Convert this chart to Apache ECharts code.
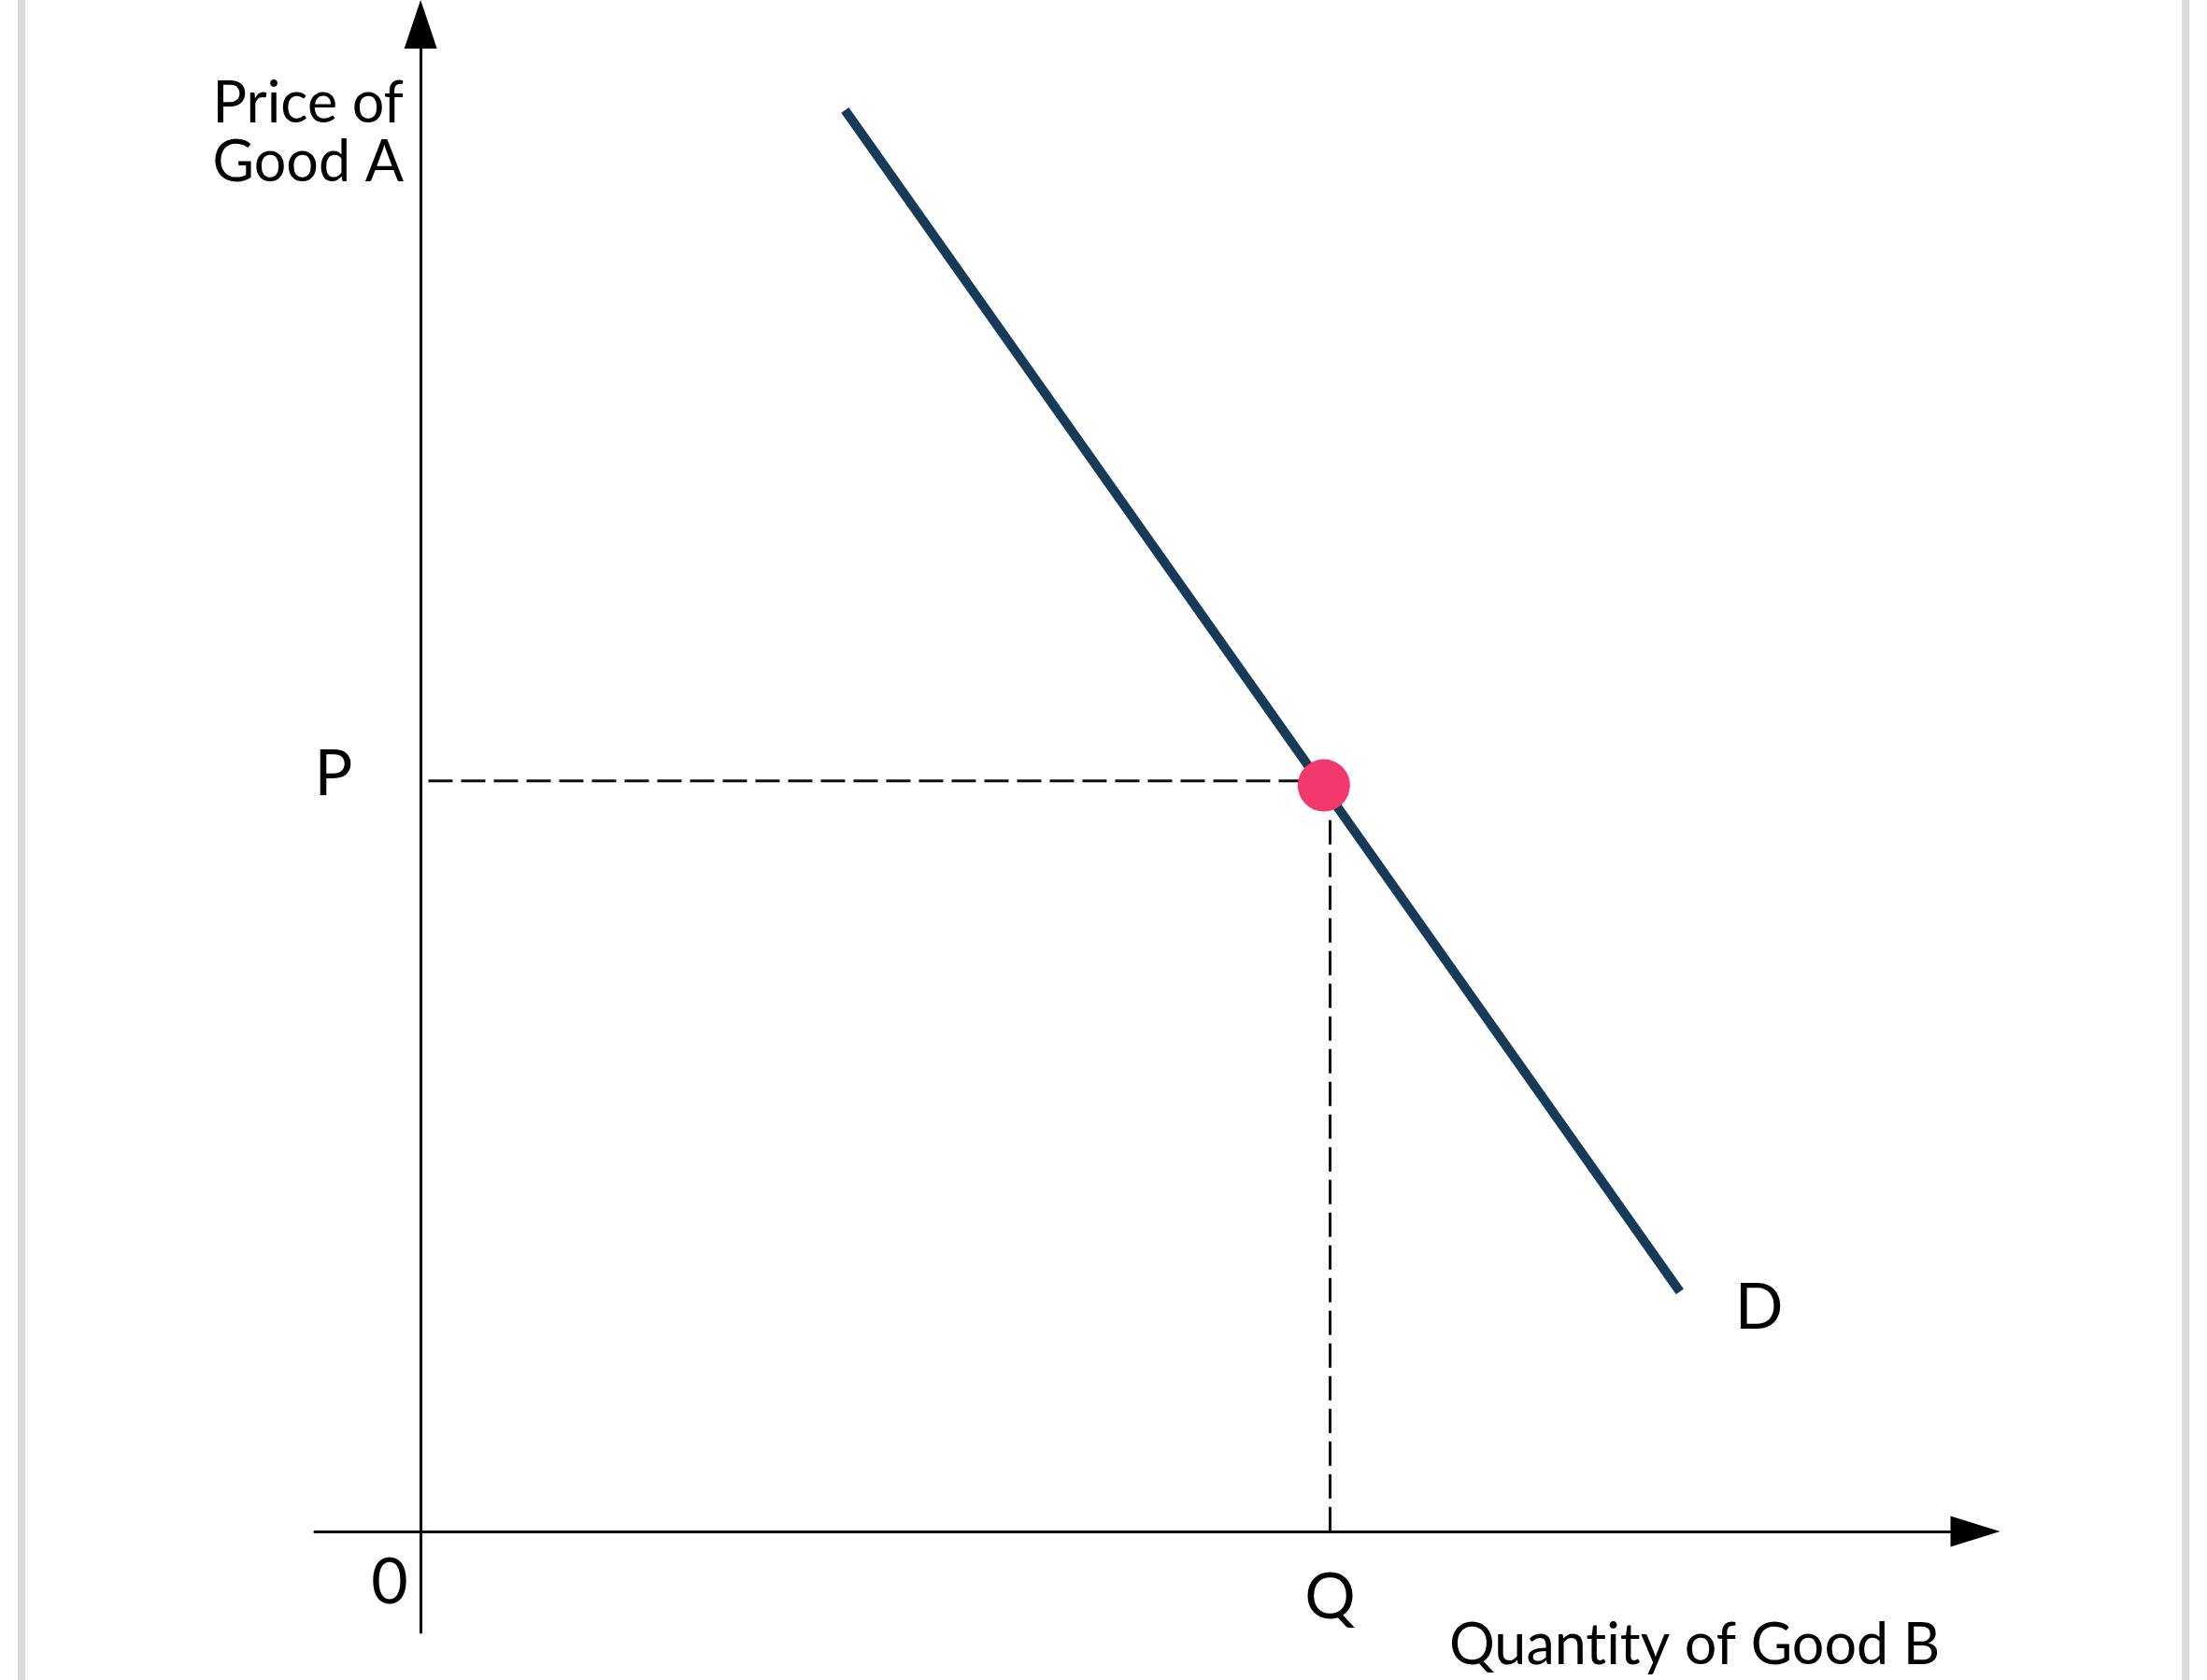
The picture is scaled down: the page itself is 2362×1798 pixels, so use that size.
<!DOCTYPE html>
<html>
<head>
<meta charset="utf-8">
<script src="https://cdn.jsdelivr.net/npm/echarts@6/dist/echarts.min.js"></script>
<style>
  html, body { margin: 0; padding: 0; background: #ffffff; }
  #chart { position: absolute; left: 0; top: 0; width: 2362px; height: 1798px; }
  .edge { position: absolute; top: 0; width: 8px; height: 1798px; background: #d9dbde; }
</style>
</head>
<body>
<div class="edge" style="left:19px"></div>
<div class="edge" style="left:2335px"></div>
<div id="chart"></div>
<script>
// ---- data (axis units: 0..100 on each axis) ----
const demandQty = [27.3, 81.0];
const demandPrice = [94.3, 15.9];
const equilibrium = [58.1, 49.5];          // [quantity, price]
const priceLevel = [49.8];                 // P guide line level
const priceGuideQty = [0.5, 56.5];         // P guide from/to
const qtyLevel = [58.5];                   // Q guide position
const qtyGuidePrice = [47.2, 0];           // Q guide from/to
const labelNames = ['P', 'Q', '0', 'D'];
const labelQty = [-5.6, 58.5, -2.0, 86.1];
const labelPrice = [50.2, -4.4, -3.4, 14.8];
const yTitle = 'Price of\nGood A';
const xTitleParts = ['Quant', 'ity of Good B'];

const FONT = 'Lato, "Open Sans", sans-serif';

const chart = echarts.init(document.getElementById('chart'), null, { renderer: 'canvas' });

const option = {
  animation: false,
  backgroundColor: 'transparent',
  grid: { left: 337, right: 248, top: 26, bottom: 51, containLabel: false },
  xAxis: {
    type: 'value', min: -6.8, max: 100,
    axisLine: { show: true, onZero: true, symbol: ['none', 'triangle'], symbolSize: [33, 53],
      lineStyle: { color: '#000', width: 3 } },
    axisTick: { show: false }, axisLabel: { show: false }, splitLine: { show: false }
  },
  yAxis: {
    type: 'value', min: -6.7, max: 100,
    axisLine: { show: true, onZero: true, symbol: ['none', 'triangle'], symbolSize: [35, 52],
      lineStyle: { color: '#000', width: 3 } },
    axisTick: { show: false }, axisLabel: { show: false }, splitLine: { show: false }
  },
  series: [
    {
      name: 'P guide', type: 'line', symbol: 'none', silent: true, z: 2,
      data: priceGuideQty.map(q => [q, priceLevel[0]]),
      lineStyle: { color: '#111', width: 3, type: [26, 9] }
    },
    {
      name: 'Q guide', type: 'line', symbol: 'none', silent: true, z: 2,
      data: qtyGuidePrice.map(p => [qtyLevel[0], p]),
      lineStyle: { color: '#111', width: 3, type: [26, 9] }
    },
    {
      name: 'Demand', type: 'line', symbol: 'none', silent: true, z: 3,
      data: demandQty.map((q, i) => [q, demandPrice[i]]),
      lineStyle: { color: '#173a58', width: 10, cap: 'butt' }
    },
    {
      name: 'Equilibrium', type: 'scatter', z: 5, silent: true,
      symbol: 'circle', symbolSize: 56,
      itemStyle: { color: '#f2386c', opacity: 1 },
      data: [equilibrium]
    },
    {
      name: 'Labels', type: 'scatter', z: 6, silent: true,
      symbolSize: 0,
      itemStyle: { opacity: 1, color: '#000' },
      data: labelNames.map((n, i) => ({ name: n, value: [labelQty[i], labelPrice[i]] })),
      label: {
        show: true, position: 'inside', formatter: p => p.name,
        color: '#000', opacity: 1, fontSize: 68, fontFamily: FONT, fontWeight: 'normal'
      }
    }
  ],
  graphic: [
    {
      type: 'text', right: 2362 - 432, top: 80, z: 10,
      style: { text: yTitle, fill: '#000', font: '61px ' + FONT, textAlign: 'right', lineHeight: 63 }
    },
    {
      type: 'text', left: 1551, top: 1731, z: 10,
      style: {
        text: xTitleParts.map(t => '{a|' + t + '}').join(''),
        fill: '#000', font: '61px ' + FONT,
        rich: { a: { fontSize: 61, fontFamily: FONT, fill: '#000', color: '#000' } }
      }
    }
  ]
};
chart.setOption(option);
</script>
</body>
</html>
